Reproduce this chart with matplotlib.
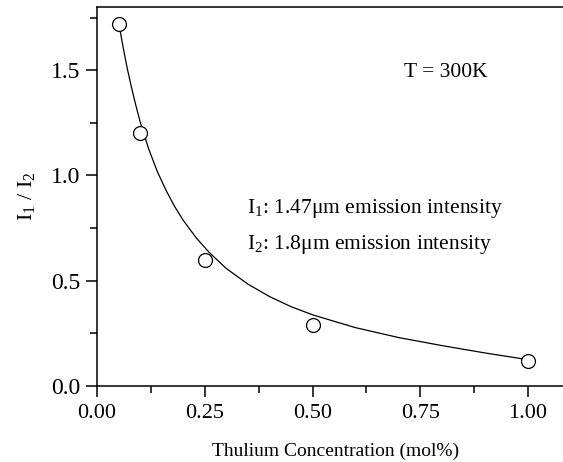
import matplotlib.pyplot as plt

plt.rcParams['font.family'] = ['Liberation Serif', 'DejaVu Serif']
plt.rcParams['mathtext.fontset'] = 'custom'
plt.rcParams['mathtext.rm'] = 'Liberation Serif'
plt.rcParams['mathtext.it'] = 'Liberation Serif'

# measured points
conc = [0.05, 0.10, 0.25, 0.50, 1.00]
ratio = [1.72, 1.20, 0.60, 0.29, 0.12]

# fitted curve
fit_x = [0.05, 0.06, 0.07, 0.08, 0.09, 0.10, 0.12, 0.14, 0.16, 0.18, 0.20, 0.23,
         0.26, 0.30, 0.35, 0.40, 0.45, 0.50, 0.60, 0.70, 0.80, 0.90, 1.00]
fit_y = [1.730, 1.615, 1.510, 1.418, 1.334, 1.255, 1.125, 1.018, 0.930, 0.853,
         0.787, 0.704, 0.635, 0.558, 0.484, 0.425, 0.377, 0.338, 0.277, 0.230,
         0.192, 0.157, 0.125]

x_ticks = [0.00, 0.25, 0.50, 0.75, 1.00]
x_labels = ['0.00', '0.25', '0.50', '0.75', '1.00']
y_ticks = [0.0, 0.5, 1.0, 1.5]
y_labels = ['0.0', '0.5', '1.0', '1.5']

fig = plt.figure(figsize=(5.63, 4.62), dpi=100)
ax = fig.add_axes([0.1723, 0.1645, 1.0 - 0.1723, 0.9848 - 0.1645])

ax.plot(fit_x, fit_y, '-', color='black', lw=0.9)
ax.plot(conc, ratio, 'o', ms=10, mfc='white', mec='black', mew=0.9, zorder=3)

ax.set_xlim(0, 1.081)
ax.set_ylim(0, 1.8)
ax.set_xticks(x_ticks, labels=x_labels)
ax.set_yticks(y_ticks, labels=y_labels)
ax.set_xticks([0.125, 0.375, 0.625, 0.875], minor=True)
ax.set_yticks([0.25, 0.75, 1.25, 1.75], minor=True)
ax.tick_params(which='major', direction='out', length=8, width=1.1, pad=4)
ax.tick_params(which='minor', direction='out', length=5, width=1.1)
ax.tick_params(axis='y', labelsize=17)
ax.tick_params(axis='x', labelsize=16, pad=5)

ax.spines['right'].set_visible(False)
for s in ['left', 'bottom', 'top']:
    ax.spines[s].set_linewidth(1.1)

ax.set_xlabel('Thulium Concentration (mol%)', fontsize=14, labelpad=14)
ax.xaxis.label.set_x(0.511)
ax.set_ylabel(r'I$_1$ / I$_2$', fontsize=16, labelpad=10)

ax.text(0.712, 1.49, 'T = 300K', fontsize=15.5, va='center', ha='left')
ax.text(0.347, 0.845, r'I$_1$: 1.47μm emission intensity', fontsize=15.5, va='center', ha='left')
ax.text(0.347, 0.67, r'I$_2$: 1.8μm emission intensity', fontsize=15.5, va='center', ha='left')

fig.savefig('out.png', dpi=100)
